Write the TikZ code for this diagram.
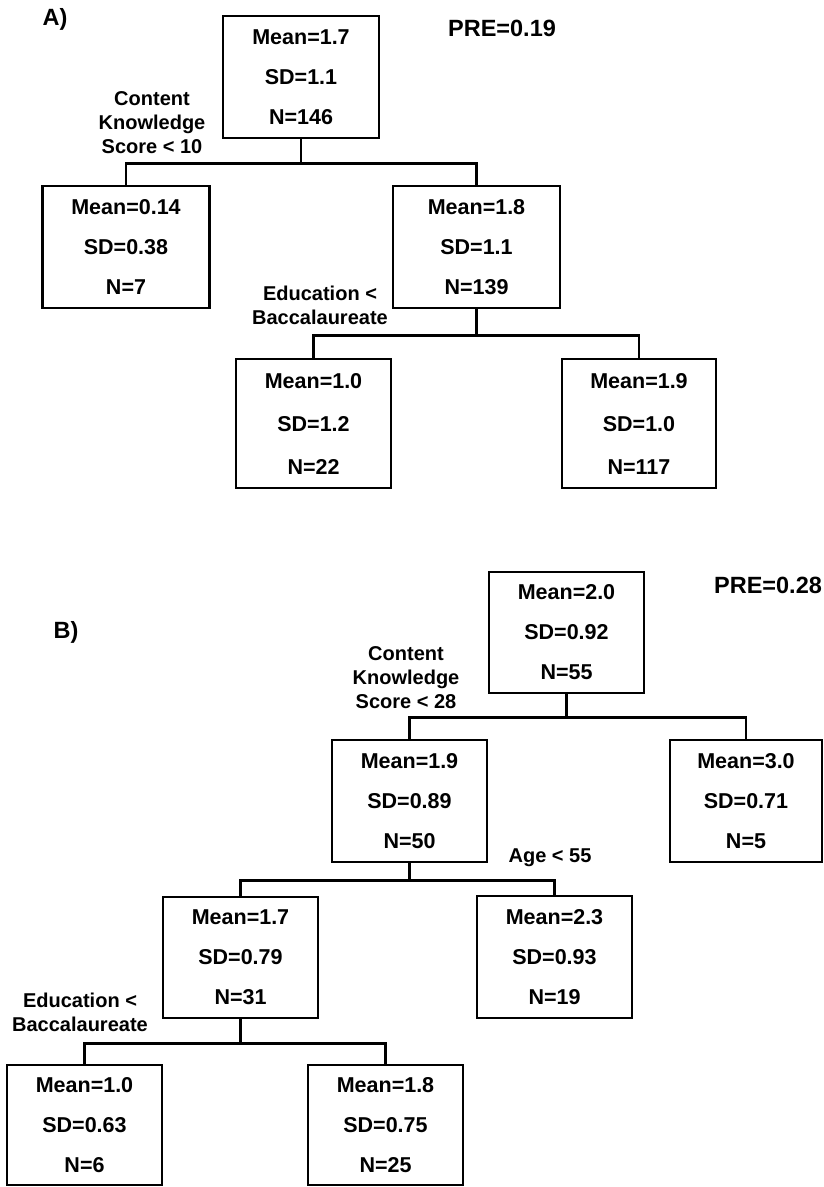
\documentclass[tikz,border=0pt]{standalone}
\usepackage{fontspec}
\setmainfont{Liberation Sans}
\begin{document}
\begin{tikzpicture}[x=1pt,y=-1pt,
  box/.style={draw, line width=2.6pt, inner sep=0pt, align=center,
    font=\bfseries\fontsize{21.5}{40}\selectfont, minimum height=122pt},
  tallbox/.style={box, minimum height=129pt, font=\bfseries\fontsize{21.5}{43}\selectfont},
  lbl/.style={align=center, inner sep=0pt, font=\bfseries\fontsize{20}{24}\selectfont},
  big/.style={inner sep=0pt, font=\bfseries\fontsize{23.5}{28}\selectfont},
  conn/.style={line width=2.6pt}]
\useasboundingbox (0,0) rectangle (823,1187);

% ---------------- Panel A ----------------
\node[big] (labA) at (55,19) {A)};
\node[big] (preA) at (502,28) {PRE=0.19};

\node[box, minimum width=156pt] (a0) at (301,77) {Mean=1.7\\SD=1.1\\N=146};
\node[box, minimum width=167pt] (a1) at (126,247) {Mean=0.14\\SD=0.38\\N=7};
\node[box, minimum width=167pt] (a2) at (476.5,247) {Mean=1.8\\SD=1.1\\N=139};
\node[tallbox, minimum width=155pt] (a3) at (313.5,423.5) {Mean=1.0\\SD=1.2\\N=22};
\node[tallbox, minimum width=154pt] (a4) at (639,423.5) {Mean=1.9\\SD=1.0\\N=117};

\node[lbl] (sA1) at (152,123) {Content\\Knowledge\\Score {\textless} 10};
\node[lbl] (sA2) at (320,305) {Education {\textless}\\Baccalaureate};

\draw[conn] (a0.south) -- ++(0,24) coordinate (ha1);
\draw[conn] (a1.north) |- (ha1) -| (a2.north);
\draw[conn] (a2.south) -- ++(0,26) coordinate (ha2);
\draw[conn] (a3.north) |- (ha2) -| (a4.north);

% ---------------- Panel B ----------------
\node[big] (labB) at (66,632) {B)};
\node[big] (preB) at (768,585) {PRE=0.28};

\node[box, minimum width=155pt, minimum height=121pt] (b0) at (566.5,632.5) {Mean=2.0\\SD=0.92\\N=55};
\node[box, minimum width=155pt] (b1) at (409.5,801) {Mean=1.9\\SD=0.89\\N=50};
\node[box, minimum width=152pt] (b2) at (746,801) {Mean=3.0\\SD=0.71\\N=5};
\node[box, minimum width=155pt, minimum height=121pt] (b3) at (240.5,957.5) {Mean=1.7\\SD=0.79\\N=31};
\node[box, minimum width=155pt] (b4) at (554.5,957) {Mean=2.3\\SD=0.93\\N=19};
\node[box, minimum width=155pt, minimum height=120pt] (b5) at (84.5,1125) {Mean=1.0\\SD=0.63\\N=6};
\node[box, minimum width=155pt, minimum height=120pt] (b6) at (385.5,1125) {Mean=1.8\\SD=0.75\\N=25};

\node[lbl] (sB1) at (406,678) {Content\\Knowledge\\Score {\textless} 28};
\node[lbl] (sB2) at (550,858) {Age {\textless} 55};
\node[lbl] (sB3) at (80,1012) {Education {\textless}\\Baccalaureate};

\draw[conn] (b0.south) -- ++(0,23) coordinate (hb1);
\draw[conn] (b1.north) |- (hb1) -| (b2.north);
\draw[conn] (b1.south) -- ++(0,17) coordinate (hb2);
\draw[conn] (b3.north) |- (hb2) -| (b4.north);
\draw[conn] (b3.south) -- ++(0,24) coordinate (hb3);
\draw[conn] (b5.north) |- (hb3) -| (b6.north);
\end{tikzpicture}
\end{document}
